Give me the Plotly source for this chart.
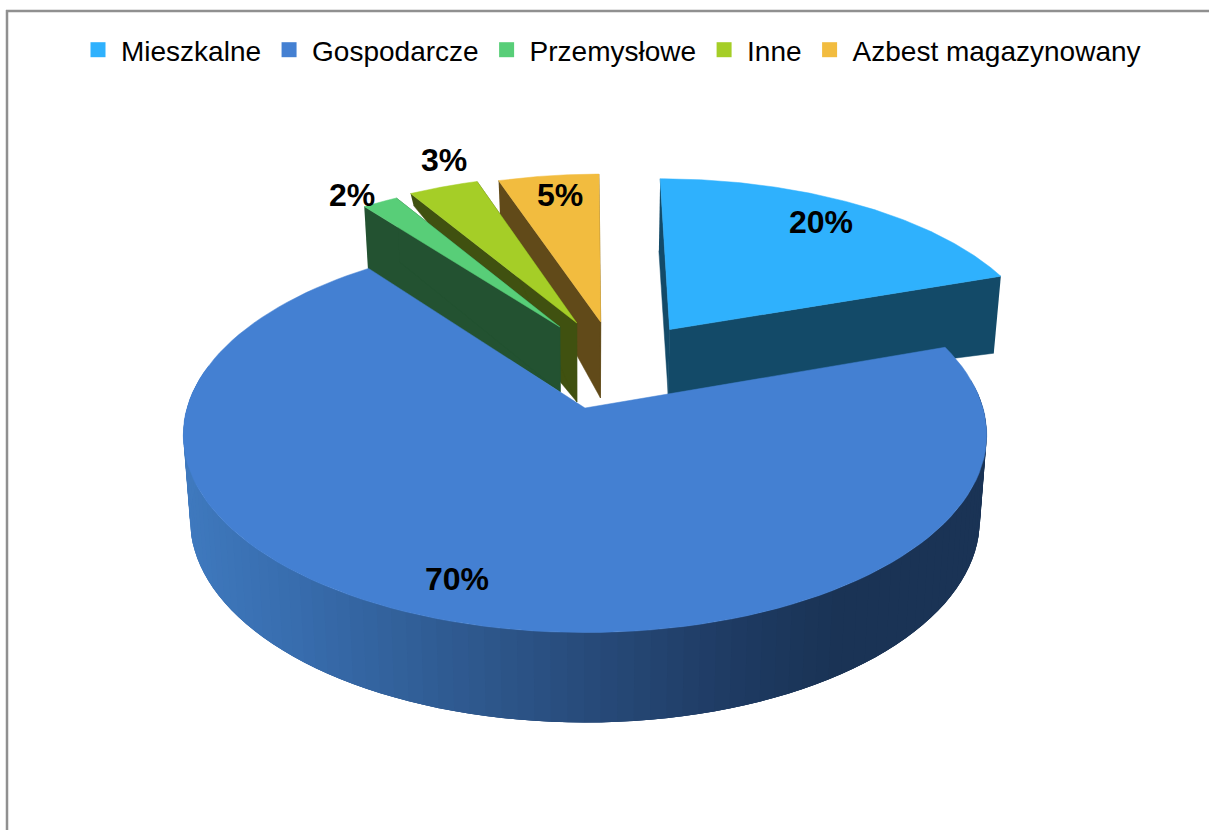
import numpy as np
import plotly.graph_objects as go

# ---- data ----
categories = ["Mieszkalne", "Gospodarcze", "Przemysłowe", "Inne", "Azbest magazynowany"]
values = [19.7, 70.0, 1.8, 3.49, 5.01]
labels = ["20%", "70%", "2%", "3%", "5%"]

# ---- style ----
top_colors = ["#2FB1FD", "#4480D2", "#58CE78", "#A5CE27", "#F2BC3F"]
wall_colors = ["#134A68", "#1A3355", "#235231", "#405110", "#614A19"]
explode = [(0.225, 0.428), (0, 0), (-0.067, 0.443), (-0.022, 0.466), (0.042, 0.472)]
radius = [0.98, 1.0, 0.96, 0.97, 0.97]
# wall depth at (start rim, apex, end rim)
depths = [(72, 65, 77), None, (64, 65, 64), (12, 79, 12), (36, 76, 36)]
label_pos = [(821, 222), (457, 579), (352, 195), (444, 160), (560, 195)]
draw_order = [0, 4, 3, 2, 1]

CX, CY, RX, RY, K, SHRINK = 585, 408, 398, 194, 0.136, 0.983
grad = [(190, (0x3F, 0x79, 0xBE)), (300, (0x38, 0x6D, 0xAE)), (450, (0x30, 0x5C, 0x93)),
        (600, (0x28, 0x4B, 0x7A)), (750, (0x1E, 0x3A, 0x62)), (850, (0x1A, 0x33, 0x55)),
        (990, (0x1A, 0x33, 0x55))]


def proj(u, v):
    w = 1 + K * np.asarray(v)
    return CX + RX * np.asarray(u) / w, CY - RY * np.asarray(v) / w


def grad_color(x):
    xs = [g[0] for g in grad]
    return "rgb(%d,%d,%d)" % tuple(int(np.interp(x, xs, [g[1][i] for g in grad])) for i in range(3))


def poly(xs, ys, color, lw=0.5):
    return go.Scatter(x=list(xs), y=list(ys), mode="lines", fill="toself", fillcolor=color,
                      line=dict(color=color, width=lw), hoverinfo="skip", showlegend=False)


fig = go.Figure()

# legend entries
for name, color in zip(categories, top_colors):
    fig.add_trace(go.Scatter(x=[None], y=[None], mode="markers", name=name,
                             marker=dict(symbol="square", size=15, color=color)))

cum = np.cumsum([0] + values)
total = sum(values)
for i in draw_order:
    a0, a1 = 2 * np.pi * cum[i] / total, 2 * np.pi * cum[i + 1] / total
    th = np.linspace(a0, a1, 121)
    ou, ov = explode[i]
    r = radius[i]
    ax, ay = proj(ou, ov)
    rx, ry = proj(ou + r * np.sin(th), ov + r * np.cos(th))
    if depths[i] is not None:
        d0, da, d1 = depths[i]
        shrink = lambda x: CX + (x - CX) * SHRINK
        # cut faces
        fig.add_trace(poly([rx[0], ax, shrink(ax), shrink(rx[0])],
                           [ry[0], ay, ay + da, ry[0] + d0], wall_colors[i]))
        fig.add_trace(poly([rx[-1], ax, shrink(ax), shrink(rx[-1])],
                           [ry[-1], ay, ay + da, ry[-1] + d1], wall_colors[i]))
    else:
        # outer gradient wall: thin overlapping strips (each one reaches under the next)
        d = 84 - 6 * r * np.cos(th)
        bx = CX + (rx - CX) * SHRINK
        by = ry + d
        n = len(th)
        for j in range(0, n - 1):
            if np.cos(th[j]) > 0.15:
                continue
            k = min(j + 3, n - 1)
            fig.add_trace(poly([*rx[j:k + 1], *bx[j:k + 1][::-1]],
                               [*ry[j:k + 1], *by[j:k + 1][::-1]],
                               grad_color(rx[j]), lw=0))
    fig.add_trace(poly([ax, *rx, ax], [ay, *ry, ay], top_colors[i]))

annotations = [dict(x=p[0], y=p[1], text=t, showarrow=False, xref="x", yref="y",
                    font=dict(family="Liberation Sans", size=32, color="black", weight="bold"))
               for t, p in zip(labels, label_pos)]

shapes = [
    dict(type="line", xref="x", yref="y", x0=7, x1=7, y0=10, y1=830, line=dict(color="#909090", width=2.5)),
    dict(type="line", xref="x", yref="y", x0=6, x1=1209, y0=11, y1=11, line=dict(color="#909090", width=2.5)),
]

fig.update_layout(
    width=1209, height=830, margin=dict(l=0, r=0, t=0, b=0),
    paper_bgcolor="white", plot_bgcolor="white",
    xaxis=dict(range=[0, 1209], visible=False, fixedrange=True),
    yaxis=dict(range=[830, 0], visible=False, fixedrange=True),
    showlegend=True,
    legend=dict(orientation="h", x=75 / 1209, xanchor="left", y=1 - 50 / 830, yanchor="middle",
                itemwidth=36,
                font=dict(family="Liberation Sans", size=28, color="black"),
                bgcolor="rgba(0,0,0,0)", borderwidth=0),
    annotations=annotations, shapes=shapes,
)

fig.write_html("out.html", config=dict(displayModeBar=False),
               post_script="document.body.style.margin='0';")
